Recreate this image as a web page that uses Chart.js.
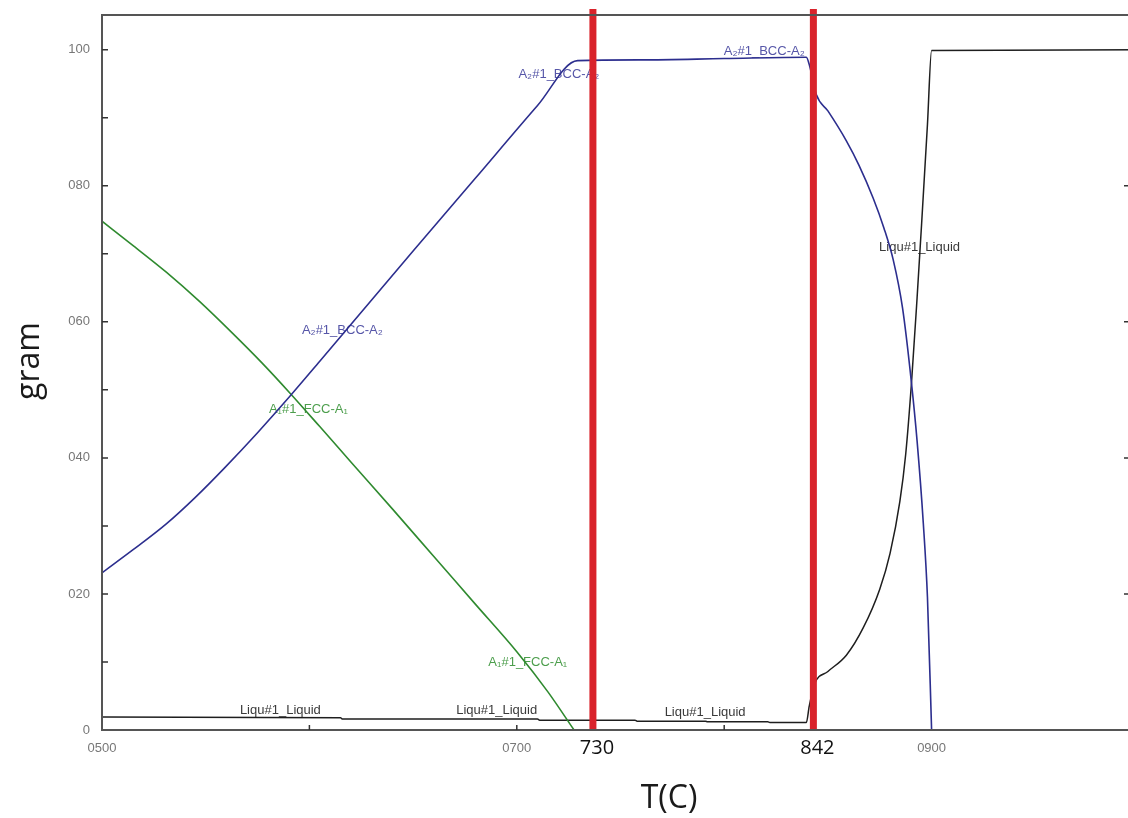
<!DOCTYPE html>
<html>
<head>
<meta charset="utf-8">
<title>gram vs T(C)</title>
<script src="https://cdn.jsdelivr.net/npm/chart.js@4"></script>
<style>
    html, body { margin: 0; padding: 0; background: #fff; overflow: hidden; }
    #wrap { width: 1150px; height: 818px; }
</style>
</head>
<body>
<div id="wrap"><canvas id="phaseChart" width="1150" height="818"></canvas></div>
<script>
// BCC_A2 phase
const bccTemp = [500, 515, 531, 545, 559, 575, 591, 605, 620, 650, 680, 710, 729.3, 760, 800, 839.6, 841.2, 844.4, 850, 858.9, 865, 871.8, 877, 881.5, 886, 890.3, 893, 896, 898, 900];
const bccGram = [23.1, 26.5, 30.3, 34.2, 38.5, 43.7, 49.2, 54.2, 59.6, 70.4, 81.1, 91.8, 98.4, 98.5, 98.7, 98.9, 97.6, 93.4, 91.0, 86.6, 83.0, 78.2, 73.8, 69.1, 62.0, 51.0, 42.5, 30.4, 19.5, 0];

// FCC_A1 phase
const fccTemp = [500, 515, 531, 547, 563, 577, 591, 605, 620, 640, 660, 680, 700, 715, 727.6];
const fccGram = [74.8, 71.2, 67.3, 63.0, 58.3, 54.0, 49.4, 44.6, 39.4, 32.5, 25.5, 18.5, 11.5, 5.6, 0];

// Liquid phase
const liqTemp = [500, 615, 616, 710, 711, 757, 758, 791, 792, 821, 822, 839.6, 841, 843.6, 850, 858.9, 867, 875, 880, 884.7, 887.5, 890.3, 893, 895.2, 898, 900, 1000];
const liqGram = [1.9, 1.8, 1.6, 1.6, 1.45, 1.45, 1.3, 1.3, 1.2, 1.2, 1.1, 1.1, 3.5, 6.8, 8.6, 11.0, 15.0, 20.7, 26.0, 33.6, 40.5, 51.0, 63.5, 74.5, 89.0, 99.9, 100];

// red marker lines and their labels
const markerTemp = [736.7, 843];
const markerText = ['730', '842'];

// axis ticks
const xLabelled = [500, 700, 900];
const yLabelled = [0, 20, 40, 60, 80, 100];

// phase labels on the curves
const curveLabels = [
    { text: 'A₂#1_BCC-A₂', t: 720.3, g: 96.3, color: '#5656a8' },
    { text: 'A₂#1_BCC-A₂', t: 819.3, g: 99.7, color: '#5656a8' },
    { text: 'A₂#1_BCC-A₂', t: 615.9, g: 58.7, color: '#5656a8' },
    { text: 'A₁#1_FCC-A₁', t: 599.5, g: 47.1, color: '#4c9e4c' },
    { text: 'A₁#1_FCC-A₁', t: 705.3, g: 9.9, color: '#4c9e4c' },
    { text: 'Liqu#1_Liquid', t: 586, g: 2.9, color: '#3a3a3a' },
    { text: 'Liqu#1_Liquid', t: 690.3, g: 2.9, color: '#3a3a3a' },
    { text: 'Liqu#1_Liquid', t: 790.8, g: 2.6, color: '#3a3a3a' },
    { text: 'Liqu#1_Liquid', t: 894.2, g: 70.9, color: '#3a3a3a' }
];

function toPoints(xs, ys) {
    return xs.map((x, i) => ({ x: x, y: ys[i] }));
}

const markerSets = markerTemp.map(t => ({
    label: 'marker',
    data: [{ x: t, y: 0 }, { x: t, y: 106 }],
    borderColor: '#d9232b',
    borderWidth: 7,
    pointRadius: 0,
    clip: false
}));

// text under the curves
const labelPlugin = {
    id: 'curveLabels',
    beforeDatasetsDraw(chart) {
        const ctx = chart.ctx;
        const xs = chart.scales.x, ys = chart.scales.y;
        ctx.save();
        ctx.font = '13px "Liberation Sans", "DejaVu Sans", sans-serif';
        ctx.textAlign = 'center';
        ctx.textBaseline = 'middle';
        curveLabels.forEach(l => {
            ctx.fillStyle = l.color;
            ctx.fillText(l.text, xs.getPixelForValue(l.t), ys.getPixelForValue(l.g));
        });
        ctx.restore();
    }
};

// frame, inward ticks, marker labels and axis titles
const framePlugin = {
    id: 'frame',
    afterDraw(chart) {
        const ctx = chart.ctx;
        const a = chart.chartArea;
        const xs = chart.scales.x, ys = chart.scales.y;
        ctx.save();
        ctx.strokeStyle = '#555';
        ctx.lineWidth = 2;
        ctx.beginPath();
        ctx.moveTo(chart.width, a.top);
        ctx.lineTo(a.left, a.top);
        ctx.lineTo(a.left, a.bottom);
        ctx.lineTo(chart.width, a.bottom);
        ctx.stroke();

        ctx.strokeStyle = '#333';
        ctx.lineWidth = 1.5;
        ctx.beginPath();
        for (let v = 10; v <= 100; v += 10) {
            const py = ys.getPixelForValue(v);
            ctx.moveTo(a.left, py);
            ctx.lineTo(a.left + 6, py);
        }
        [20, 40, 60, 80].forEach(v => {
            const py = ys.getPixelForValue(v);
            ctx.moveTo(1124, py);
            ctx.lineTo(1130, py);
        });
        [600, 700, 800].forEach(v => {
            const px = xs.getPixelForValue(v);
            ctx.moveTo(px, a.bottom);
            ctx.lineTo(px, a.bottom - 5);
        });
        ctx.stroke();

        ctx.fillStyle = '#111';
        ctx.textAlign = 'center';
        ctx.textBaseline = 'middle';
        ctx.font = '20px "Open Sans", sans-serif';
        markerTemp.forEach((t, i) => {
            ctx.fillText(markerText[i], xs.getPixelForValue(t) + 4, 748);
        });

        ctx.font = '32px "Open Sans", sans-serif';
        ctx.fillStyle = '#1a1a1a';
        ctx.fillText('T(C)', 669, 799);
        ctx.translate(30, 361);
        ctx.rotate(-Math.PI / 2);
        ctx.fillText('gram', 0, 0);
        ctx.restore();
    }
};

Chart.defaults.font.family = '"Liberation Sans", Arial, sans-serif';

const chart = new Chart(document.getElementById('phaseChart'), {
    type: 'line',
    data: {
        datasets: markerSets.concat([
            {
                label: 'BCC_A2',
                data: toPoints(bccTemp, bccGram),
                borderColor: '#2c2e8e',
                borderWidth: 1.6,
                pointRadius: 0,
                cubicInterpolationMode: 'monotone'
            },
            {
                label: 'FCC_A1',
                data: toPoints(fccTemp, fccGram),
                borderColor: '#2f8a2f',
                borderWidth: 1.6,
                pointRadius: 0,
                cubicInterpolationMode: 'monotone'
            },
            {
                label: 'Liquid',
                data: toPoints(liqTemp, liqGram),
                borderColor: '#1e1e1e',
                borderWidth: 1.5,
                pointRadius: 0,
                cubicInterpolationMode: 'monotone'
            }
        ])
    },
    options: {
        responsive: false,
        animation: false,
        layout: { padding: { left: 42, top: 15, right: 3, bottom: 58 } },
        plugins: {
            legend: { display: false },
            tooltip: { enabled: false }
        },
        scales: {
            x: {
                type: 'linear',
                min: 500,
                max: 1000,
                grid: { display: false, drawTicks: false },
                border: { display: false },
                afterFit: function (scale) { scale.height = 30; },
                ticks: {
                    stepSize: 100,
                    autoSkip: false,
                    maxRotation: 0,
                    padding: 11,
                    color: '#777',
                    font: { size: 13 },
                    callback: function (v) {
                        return xLabelled.includes(v) ? String(v).padStart(4, '0') : '';
                    }
                }
            },
            y: {
                min: 0,
                max: 105.1,
                grid: { display: false, drawTicks: false },
                border: { display: false },
                afterFit: function (scale) {
                    scale.width = 60;
                    scale.paddingTop = 0;
                    scale.paddingBottom = 0;
                },
                ticks: {
                    stepSize: 20,
                    padding: 12,
                    color: '#777',
                    font: { size: 13 },
                    callback: function (v) {
                        if (!yLabelled.includes(v)) return '';
                        return v === 0 ? '0' : String(v).padStart(3, '0');
                    }
                }
            }
        }
    },
    plugins: [labelPlugin, framePlugin]
});
</script>
</body>
</html>
